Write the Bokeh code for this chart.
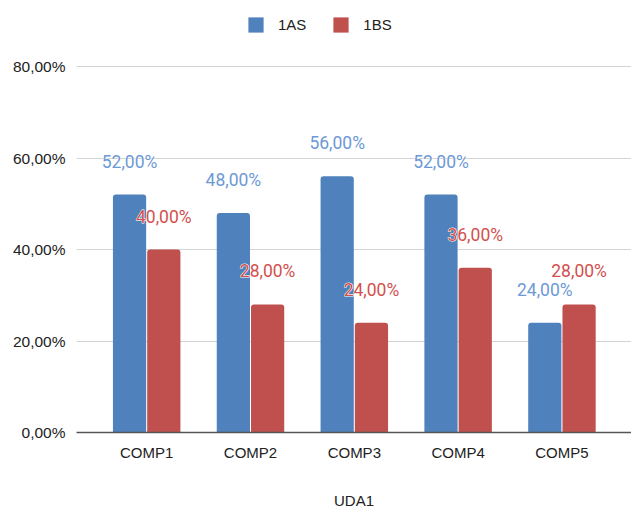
from bokeh.plotting import figure
from bokeh.models import ColumnDataSource, Range1d, FixedTicker, LabelSet, Legend, LegendItem
from bokeh.core.properties import value
from bokeh.embed import file_html
from bokeh.resources import INLINE

categories = ["COMP1", "COMP2", "COMP3", "COMP4", "COMP5"]
series_names = ["1AS", "1BS"]
values_1as = [0.52, 0.48, 0.56, 0.52, 0.24]
values_1bs = [0.40, 0.28, 0.24, 0.36, 0.28]
y_ticks = [0.0, 0.2, 0.4, 0.6, 0.8]
y_tick_labels = ["0,00%", "20,00%", "40,00%", "60,00%", "80,00%"]
x_title = "UDA1"

BLUE = "#4f81bd"
RED = "#c0504d"
BLUE_TXT = "#6d99d5"
RED_TXT = "#d2504d"
FONT = "Liberation Sans"

def fmt(v):
    return f"{v*100:.2f}%".replace(".", ",")

xs = list(range(len(categories)))
off = 0.165
w = 0.32
src1 = ColumnDataSource(dict(x=[i - off for i in xs], top=values_1as, lab=[fmt(v) for v in values_1as]))
src2 = ColumnDataSource(dict(x=[i + off for i in xs], top=values_1bs, lab=[fmt(v) for v in values_1bs]))

p = figure(width=631, height=511, output_backend="svg", toolbar_location=None,
           x_range=Range1d(-0.676, 4.67), y_range=Range1d(0, 0.9443),
           min_border_left=76, min_border_right=0, min_border_bottom=79, min_border_top=0)
p.outline_line_color = None

r1 = p.vbar(x="x", top="top", width=w, source=src1, fill_color=BLUE, line_color=None, border_radius=(3, 3, 0, 0))
r2 = p.vbar(x="x", top="top", width=w, source=src2, fill_color=RED, line_color=None, border_radius=(3, 3, 0, 0))

for src, col in ((src1, BLUE_TXT), (src2, RED_TXT)):
    halo = LabelSet(x="x", y="top", text="lab", source=src, y_offset=27, text_align="center",
                    text_baseline="alphabetic", text_font=value("Roboto"), text_font_size=value("17.5px"),
                    text_color="white", text_outline_color="white")
    ls = LabelSet(x="x", y="top", text="lab", source=src, y_offset=27, text_align="center",
                  text_baseline="alphabetic", text_font=value("Roboto"), text_font_size=value("17.5px"),
                  text_color=col)
    p.add_layout(halo)
    p.add_layout(ls)

# axes
p.xaxis.ticker = FixedTicker(ticks=xs)
p.xaxis.major_label_overrides = {i: c for i, c in zip(xs, categories)}
p.xaxis.major_tick_line_color = None
p.xaxis.minor_tick_line_color = None
p.xaxis.major_tick_out = 0
p.xaxis.axis_line_color = "#555555"
p.xaxis.axis_line_width = 1.3
p.xaxis.major_label_standoff = 11
p.xaxis.major_label_text_font = FONT
p.xaxis.major_label_text_font_size = "15px"
p.xaxis.major_label_text_color = "#222222"
p.xaxis.axis_label = x_title
p.xaxis.axis_label_text_font = FONT
p.xaxis.axis_label_text_font_size = "15px"
p.xaxis.axis_label_text_font_style = "normal"
p.xaxis.axis_label_text_color = "#222222"
p.xaxis.axis_label_standoff = 28

p.yaxis.ticker = FixedTicker(ticks=y_ticks)
p.yaxis.major_label_overrides = {t: l for t, l in zip(y_ticks, y_tick_labels)}
p.yaxis.axis_line_color = None
p.yaxis.major_tick_line_color = None
p.yaxis.minor_tick_line_color = None
p.yaxis.major_tick_out = 0
p.yaxis.major_label_standoff = 11
p.yaxis.major_label_text_font = FONT
p.yaxis.major_label_text_font_size = "15.5px"
p.yaxis.major_label_text_color = "#222222"

p.xgrid.grid_line_color = None
p.ygrid.ticker = FixedTicker(ticks=y_ticks[1:])
p.ygrid.grid_line_color = "#d4d4d4"
p.ygrid.grid_line_width = 1.2

legend = Legend(items=[LegendItem(label=series_names[0], renderers=[r1]),
                       LegendItem(label=series_names[1], renderers=[r2])],
                orientation="horizontal", location=(170, 398), border_line_color=None,
                background_fill_alpha=0,
                glyph_width=19, glyph_height=19, label_height=19,
                label_text_font=FONT, label_text_font_size="15px", label_text_color="#222222",
                label_standoff=13, spacing=25, padding=0, margin=0)
p.add_layout(legend)

open("out.html", "w").write(file_html(p, INLINE))
